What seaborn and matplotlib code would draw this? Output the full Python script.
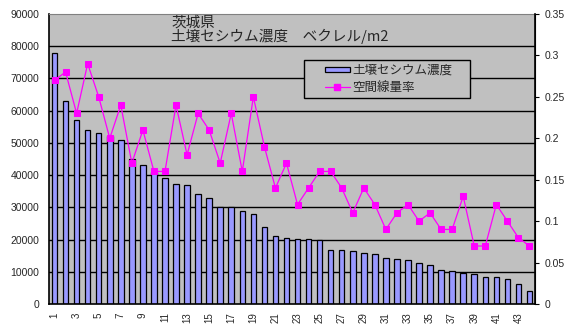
import numpy as np
import pandas as pd
import matplotlib
matplotlib.use("Agg")
import matplotlib.pyplot as plt
import seaborn as sns
from matplotlib.patches import Patch, Rectangle
from matplotlib.lines import Line2D
from matplotlib.legend_handler import HandlerBase

# ---- data ----
categories = list(range(1, 45))
cesium = [78000, 63000, 57000, 54000, 53000, 52000, 51000, 45000, 43000, 41000,
          39000, 37200, 37000, 34000, 33000, 30000, 30000, 29000, 28000, 24000,
          21000, 20400, 20300, 20100, 19900, 16800, 16800, 16500, 15700, 15400,
          14200, 14000, 13700, 12600, 12000, 10600, 10100, 9500, 9200, 8300,
          8300, 7800, 6100, 3900]
dose_rate = [0.27, 0.28, 0.23, 0.29, 0.25, 0.20, 0.24, 0.17, 0.21, 0.16,
             0.16, 0.24, 0.18, 0.23, 0.21, 0.17, 0.23, 0.16, 0.25, 0.19,
             0.14, 0.17, 0.12, 0.14, 0.16, 0.16, 0.14, 0.11, 0.14, 0.12,
             0.09, 0.11, 0.12, 0.10, 0.11, 0.09, 0.09, 0.13, 0.07, 0.07,
             0.12, 0.10, 0.08, 0.07]
left_ticks = [0, 10000, 20000, 30000, 40000, 50000, 60000, 70000, 80000, 90000]
right_ticks = [0, 0.05, 0.1, 0.15, 0.2, 0.25, 0.3, 0.35]
right_labels = ["0", "0.05", "0.1", "0.15", "0.2", "0.25", "0.3", "0.35"]
title_text = "茨城県\n土壌セシウム濃度　ベクレル/m2"
legend_labels = ["土壌セシウム濃度", "空間線量率"]

df = pd.DataFrame({"cat": [str(c) for c in categories],
                   "pos": np.arange(len(categories)),
                   "cesium": cesium, "rate": dose_rate})

sns.set_style("white")
plt.rcParams["font.family"] = ["Liberation Sans", "Noto Sans CJK JP", "DejaVu Sans"]
jp = ["Noto Sans CJK JP", "DejaVu Sans"]

bar_color = "#9999FF"
line_color = "#FF00FF"

fig = plt.figure(figsize=(5.67, 3.28), dpi=100)
ax = fig.add_axes([49/567, 1-304/328, (535-49)/567, 290/328])
ax.set_facecolor("#C0C0C0")

sns.barplot(data=df, x="cat", y="cesium", ax=ax, color=bar_color,
            edgecolor="black", linewidth=0.9, width=0.5, saturation=1,
            order=df["cat"].tolist())
ax.set_ylim(0, 90000)
ax.set_xlim(-0.5, len(categories) - 0.5)
ax.set_yticks(left_ticks)
ax.set_yticklabels([str(t) for t in left_ticks], fontsize=7.5)
for t in left_ticks[1:-1]:
    ax.axhline(t, color="black", lw=1.0, zorder=0.5)
ax.set_axisbelow(True)
ax.set_xticks(np.arange(0, len(categories), 2))
ax.set_xticklabels([str(c) for c in categories[::2]], rotation=90, fontsize=7)
ax.set_xticks(np.arange(-0.5, len(categories), 1), minor=True)
ax.tick_params(axis="x", which="major", length=0, pad=6)
ax.tick_params(axis="x", which="minor", direction="in", length=3, width=0.8, color="black")
ax.tick_params(axis="y", length=0, pad=7)
ax.set_xlabel("")
ax.set_ylabel("")
for s in ["left", "bottom"]:
    ax.spines[s].set_color("black")
    ax.spines[s].set_linewidth(1.2)
ax.spines["top"].set_color("#808080")
ax.spines["right"].set_color("black")

ax2 = ax.twinx()
sns.lineplot(data=df, x="pos", y="rate", ax=ax2, color=line_color, lw=0.9,
             marker="s", markersize=5, markeredgecolor=line_color, legend=False)
ax2.set_ylim(0, 0.35)
ax2.set_yticks(right_ticks)
ax2.set_yticklabels(right_labels, fontsize=7.5)
ax2.tick_params(axis="y", direction="out", length=3, width=0.8, color="black", pad=4)
ax2.set_ylabel("")
ax2.set_xlabel("")
ax2.set_xlim(-0.5, len(categories) - 0.5)
for s in ["left", "bottom", "top"]:
    ax2.spines[s].set_visible(False)
ax2.spines["right"].set_color("black")
ax2.spines["right"].set_linewidth(1.2)

ax2.text((171-49)/486, (304-16)/290, title_text, transform=ax2.transAxes,
         ha="left", va="top", fontsize=10.5, family=jp, linespacing=0.92)

# legend frame (drawn as a box in axes coords)
def px2ax(x, y):
    return (x - 49) / 486, (304 - y) / 290
bx0, by0 = px2ax(304, 98)
bx1, by1 = px2ax(470, 60)
frame = Rectangle((bx0, by0), bx1 - bx0, by1 - by0, transform=ax2.transAxes,
                  facecolor="#C0C0C0", edgecolor="black", lw=1.0, zorder=4)
ax2.add_patch(frame)

FRAC = 0.42

class ShiftPatch(HandlerBase):
    def create_artists(self, legend, orig_handle, xdescent, ydescent, width,
                       height, fontsize, trans):
        x0 = -xdescent + width * FRAC
        h = height * 0.62
        p = Rectangle((x0, -ydescent + (height - h) / 2), width * (1 - FRAC), h,
                      facecolor=bar_color, edgecolor="black", lw=0.9, transform=trans)
        return [p]

class ShiftLine(HandlerBase):
    def create_artists(self, legend, orig_handle, xdescent, ydescent, width,
                       height, fontsize, trans):
        x0 = -xdescent + width * FRAC
        x1 = -xdescent + width
        y = -ydescent + height / 2
        ln = Line2D([x0, x1], [y, y], color=line_color, lw=0.9, transform=trans)
        mk = Line2D([(x0 + x1) / 2], [y], marker="s", markersize=5, color=line_color,
                    linestyle="none", transform=trans)
        return [ln, mk]

h_bar = Patch(facecolor=bar_color, edgecolor="black")
h_line = Line2D([0], [0], color=line_color, marker="s")
lx, ly = px2ax(307, 79)
leg = ax2.legend([h_bar, h_line], legend_labels, loc="center left",
                 bbox_to_anchor=(lx, ly),
                 handler_map={h_bar: ShiftPatch(), h_line: ShiftLine()},
                 prop={"family": jp, "size": 9}, frameon=False,
                 borderpad=0, borderaxespad=0, handlelength=3.4,
                 labelspacing=0.35, handletextpad=0.25)

fig.savefig("out.png", dpi=100, facecolor="white")
